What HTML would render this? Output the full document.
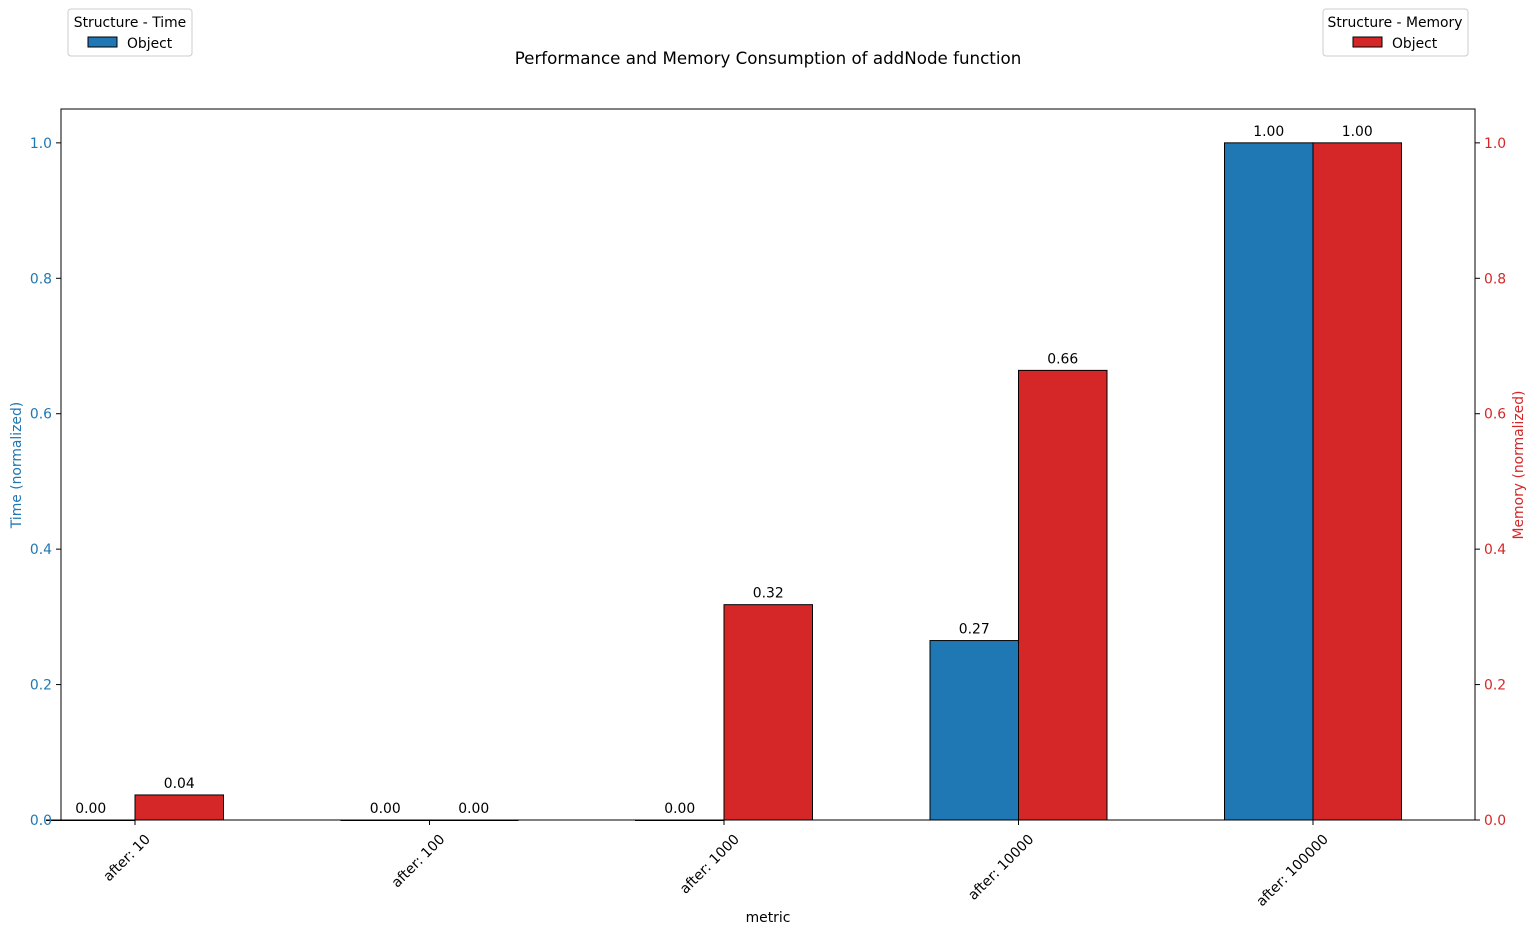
<!DOCTYPE html>
<html><head><meta charset="utf-8"><style>body{margin:0;background:#fff}svg{font-family:"DejaVu Sans","Liberation Sans",sans-serif}</style></head>
<body>
<svg id="c" width="1536" height="936" xmlns="http://www.w3.org/2000/svg"></svg>
<script>
const categories=["after: 10","after: 100","after: 1000","after: 10000","after: 100000"];
const timeValues=[0.0,0.0,0.0,0.265,1.0];
const memoryValues=[0.037,0.0,0.318,0.664,1.0];
const yTicks=[0,0.2,0.4,0.6,0.8,1.0];
const yTickLabels=["0.0","0.2","0.4","0.6","0.8","1.0"];
const svg=document.getElementById('c');
const NS='http://www.w3.org/2000/svg';
const L=61,R=1475,T=109,B=820;
const x=i=>135+294.5*i;
const bw=88.5;
const y=v=>B-v*(B-T)/1.05;
const FS=13.9;
function mk(tag,a,txt){const e=document.createElementNS(NS,tag);for(const k in a)e.setAttribute(k,a[k]);if(txt!==undefined)e.textContent=txt;svg.appendChild(e);return e;}
categories.forEach((c,i)=>{
 const tv=timeValues[i],mv=memoryValues[i];
 let b=mk('rect',{x:x(i)-bw,y:y(tv),width:bw,height:Math.max(B-y(tv),0.5),fill:'#1f77b4',stroke:'#000','stroke-width':1});
 
 
 let r=mk('rect',{x:x(i),y:y(mv),width:bw,height:Math.max(B-y(mv),0.5),fill:'#d62728',stroke:'#000','stroke-width':1});
 
 
 let t1=mk('text',{x:x(i)-bw/2,y:y(tv)-7,'font-size':FS,'text-anchor':'middle'},tv.toFixed(2));
 
 
 let t2=mk('text',{x:x(i)+bw/2,y:y(mv)-7,'font-size':FS,'text-anchor':'middle'},mv.toFixed(2));
 
 
 mk('line',{x1:x(i),x2:x(i),y1:B,y2:B+5,stroke:'#000'});
 let xl=mk('text',{x:0,y:0,'font-size':FS,'text-anchor':'end',transform:`translate(${x(i)+16},${B+20}) rotate(-45)`},c);
 
 
});
yTicks.forEach((v,k)=>{
 mk('line',{x1:L-5,x2:L,y1:y(v),y2:y(v),stroke:'#000'});
 mk('line',{x1:R,x2:R+5,y1:y(v),y2:y(v),stroke:'#000'});
 let a=mk('text',{x:L-9,y:y(v)+5,'font-size':FS,'text-anchor':'end',fill:'#1f77b4'},yTickLabels[k]);
 
 
 let b=mk('text',{x:R+9,y:y(v)+5,'font-size':FS,fill:'#d62728'},yTickLabels[k]);
 
 
});
</script>
<svg width="1536" height="936" style="position:absolute;left:0;top:0" xmlns="http://www.w3.org/2000/svg">
<rect x="61" y="109" width="1414" height="711" fill="none" stroke="#000" stroke-width="1"/>
<text x="768" y="64" font-size="16.7" text-anchor="middle">Performance and Memory Consumption of addNode function</text>
<text x="768" y="922" font-size="13.9" text-anchor="middle">metric</text>
<text transform="translate(21,465) rotate(-90)" font-size="13.9" text-anchor="middle" fill="#1f77b4">Time (normalized)</text>
<text transform="translate(1523,465) rotate(-90)" font-size="13.9" text-anchor="middle" fill="#d62728">Memory (normalized)</text>
<g>
<rect x="68" y="9" width="124" height="47" rx="3" fill="#fff" stroke="#ccc"/>
<text x="130" y="27" font-size="13.9" text-anchor="middle">Structure - Time</text>
<rect x="88" y="37" width="29" height="10" fill="#1f77b4" stroke="#000"/>
<text x="127" y="48" font-size="13.9">Object</text>
</g>
<g>
<rect x="1323" y="9" width="145" height="47" rx="3" fill="#fff" stroke="#ccc"/>
<text x="1395" y="27" font-size="13.9" text-anchor="middle">Structure - Memory</text>
<rect x="1353" y="37" width="29" height="10" fill="#d62728" stroke="#000"/>
<text x="1392" y="48" font-size="13.9">Object</text>
</g>
</svg>
</body></html>
